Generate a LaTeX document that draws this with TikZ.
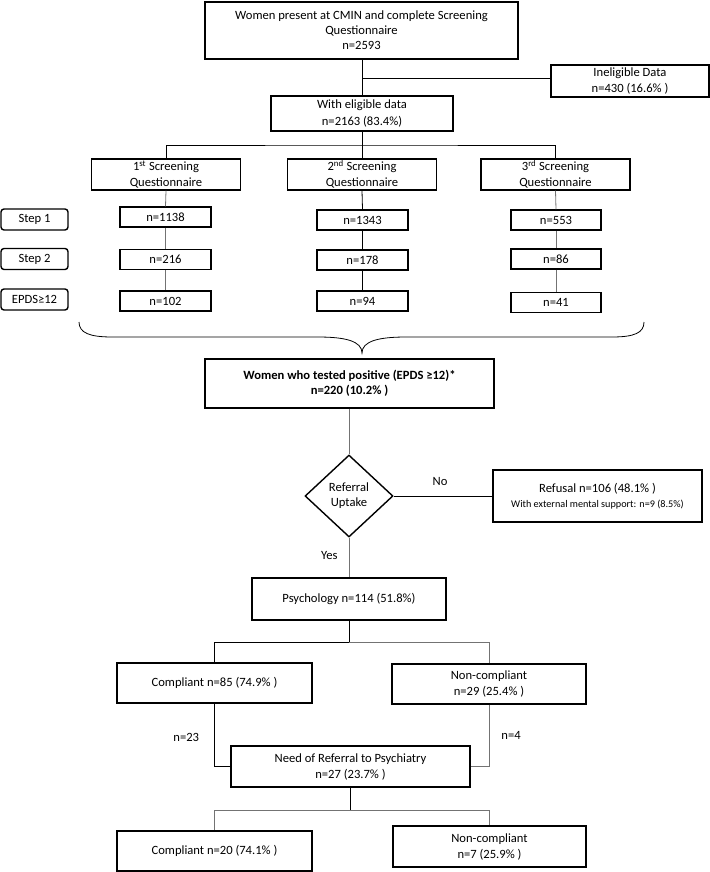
\documentclass[tikz,border=0pt]{standalone}
\usepackage{fontspec}
\setmainfont{Carlito}
\usetikzlibrary{shapes.geometric}
\begin{document}
\begin{tikzpicture}[x=1bp,y=-1bp,
  box/.style={draw=black,line width=1.4bp,inner sep=0pt,align=center,fill=white,
    font=\fontsize{12.6bp}{16bp}\selectfont},
  sbox/.style={box,minimum height=20bp,minimum width=91bp},
  stepbox/.style={box,rounded corners=3bp,minimum width=67bp,minimum height=21bp},
  line/.style={draw=black,line width=0.8bp},
  gline/.style={draw=black!55,line width=0.8bp},
  lbl/.style={font=\fontsize{12.6bp}{15bp}\selectfont,inner sep=0pt}]
\useasboundingbox (0,0) rectangle (710,872);
% top part
\node[box,minimum width=313bp,minimum height=57bp,font=\fontsize{12.6bp}{15bp}\selectfont] (top) at (361.5,30.5)
  {Women present at CMIN and complete Screening\\Questionnaire\\n=2593};
\node[box,minimum width=158bp,minimum height=32bp] (inel) at (630,81)
  {Ineligible Data\\n=430 (16.6\% )};
\node[box,minimum width=182bp,minimum height=35bp,font=\fontsize{12.6bp}{17bp}\selectfont] (elig) at (362,113.5)
  {With eligible data\\n=2163 (83.4\%)};
\coordinate (j1) at (362,78);
\draw[line] (top.south -| j1) -- (elig.north -| j1);
\draw[line] (j1) -- (j1 -| inel.west);
% screenings
\node[box,minimum width=149bp,minimum height=31bp] (s1) at (166,174.5)
  {1\textsuperscript{st} Screening\\Questionnaire};
\node[box,minimum width=149bp,minimum height=31bp] (s2) at (362,174.5)
  {2\textsuperscript{nd} Screening\\Questionnaire};
\node[box,minimum width=149bp,minimum height=31bp] (s3) at (555.5,174.5)
  {3\textsuperscript{rd} Screening\\Questionnaire};
\coordinate (b1) at (362,145);
\draw[line] (elig.south) -- (b1);
\draw[line] (b1) -- (s2.north);
\draw[line] (s1.north) |- (b1) -| (s3.north);
% step labels
\node[stepbox] (st1) at (34.5,219.5) {Step 1};
\node[stepbox] (st2) at (34.5,259) {Step 2};
\node[stepbox] (st3) at (34.5,299.5) {EPDS≥12};
% column 1
\node[sbox] (a1) at (165.5,217) {n=1138};
\node[sbox] (a2) at (165.5,259.5) {n=216};
\node[sbox] (a3) at (165.5,301) {n=102};
% column 2
\node[sbox] (c1) at (362.5,220) {n=1343};
\node[sbox] (c2) at (362.5,260) {n=178};
\node[sbox] (c3) at (362.5,301) {n=94};
% column 3
\node[sbox,minimum width=90bp] (d1) at (556,220) {n=553};
\node[sbox,minimum width=90bp] (d2) at (556,259) {n=86};
\node[sbox,minimum width=90bp] (d3) at (556,302.5) {n=41};
\draw[gline] (s1.south) -- (a1.north);
\draw[gline] (a1.south) -- (a2.north);
\draw[gline] (a2.south) -- (a3.north);
\draw[line] (s2.south) -- (c1.north);
\draw[line] (c1.south) -- (c2.north);
\draw[line] (c2.south) -- (c3.north);
\draw[gline] (s3.south) -- (d1.north);
\draw[gline] (d1.south) -- (d2.north);
\draw[gline] (d2.south) -- (d3.north);
% brace
\draw[line] (79,322) .. controls (79,333) and (90,337) .. (112,337) -- (318,337)
  .. controls (345,337) and (362,341) .. (362,353)
  .. controls (362,341) and (379,337) .. (406,337) -- (612,337)
  .. controls (634,337) and (644,333) .. (644,322);
% positive
\node[box,minimum width=289bp,minimum height=49bp,font=\fontsize{12.6bp}{15bp}\selectfont\bfseries] (pos) at (349.5,383.5)
  {Women who tested positive (EPDS ≥12)*\\n=220 (10.2\% )};
\node[draw=black,line width=1.4bp,shape=diamond,inner sep=0pt,minimum width=88bp,minimum height=82bp,
  align=center,font=\fontsize{12.6bp}{15bp}\selectfont] (dia) at (349,496) {Referral\\Uptake};
\draw[gline] (pos.south -| dia.north) -- (dia.north);
\node[box,minimum width=209bp,minimum height=52bp,font=\fontsize{12.6bp}{15bp}\selectfont] (ref) at (597.5,496)
  {Refusal n=106 (48.1\% )\\{\fontsize{10.2bp}{12bp}\selectfont With external mental support: n=9 (8.5\%)}};
\draw[line] (dia.east) -- node[lbl,above=10bp,pos=0.47] {No} (ref.west);
\node[box,minimum width=194bp,minimum height=42bp] (psy) at (349,599) {Psychology n=114 (51.8\%)};
\draw[gline] (dia.south) -- node[lbl,left=11bp,pos=0.45] {Yes} (psy.north);
% compliance
\node[box,minimum width=195bp,minimum height=40bp] (cp1) at (214.5,683) {Compliant n=85 (74.9\% )};
\node[box,minimum width=194bp,minimum height=40bp] (nc1) at (489,684) {Non-compliant\\n=29 (25.4\% )};
\coordinate (b2) at (349,642);
\draw[line] (psy.south) -- (b2);
\draw[line] (b2) -| (cp1.north);
\draw[gline] (b2) -| (nc1.north);
\node[box,minimum width=239bp,minimum height=41bp] (need) at (350.5,766.5)
  {Need of Referral to Psychiatry\\n=27 (23.7\% )};
\draw[line] (cp1.south) |- node[lbl,pos=0.27,left=15bp] {n=23} (need.west);
\draw[gline] (nc1.south) |- node[lbl,pos=0.25,right=12bp] {n=4} (need.east);
\node[box,minimum width=195bp,minimum height=40bp] (cp2) at (214.5,851) {Compliant n=20 (74.1\% )};
\node[box,minimum width=193bp,minimum height=41bp] (nc2) at (489.5,846.5) {Non-compliant\\n=7 (25.9\% )};
\coordinate (b3) at (350.5,810);
\draw[line] (need.south) -- (b3);
\draw[gline] (b3) -| (cp2.north);
\draw[gline] (b3) -| (nc2.north);
\end{tikzpicture}
\end{document}
